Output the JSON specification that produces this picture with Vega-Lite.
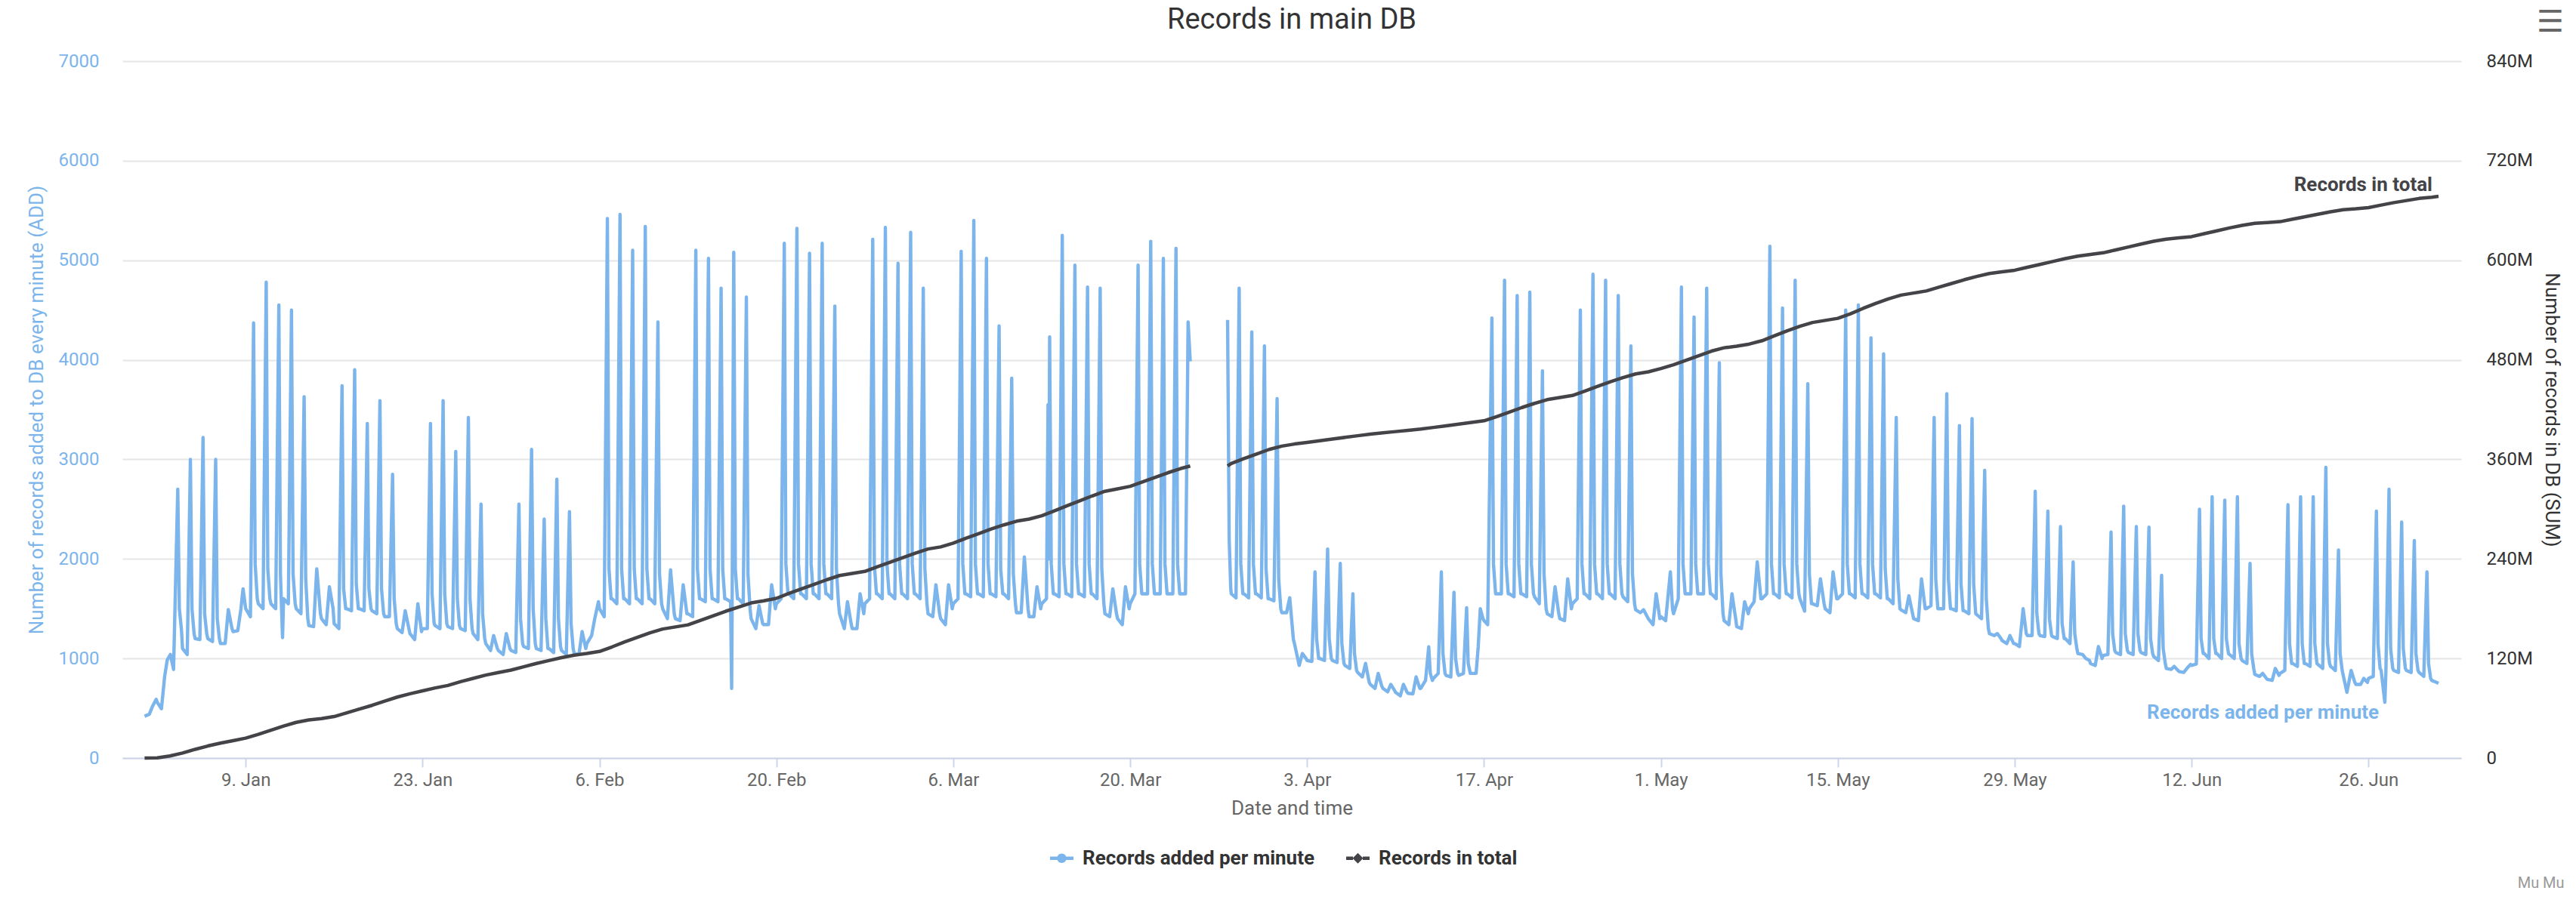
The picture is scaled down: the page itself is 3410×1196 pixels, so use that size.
{
  "$schema": "https://vega.github.io/schema/vega-lite/v6.json",
  "autosize": {"type": "none"},
  "width": 3096,
  "height": 923,
  "padding": {"left": 162, "top": 81, "right": 152, "bottom": 192},
  "title": {"text": "Records in main DB", "fontSize": 38, "fontWeight": "normal", "color": "#333333", "anchor": "middle", "baseline": "alphabetic", "offset": -66},
  "config": {"font": "Roboto", "view": {"stroke": null}},
  "datasets": {
    "add": [
      {"t":"2017-01-01T00:00","v":420},{"t":"2017-01-01T09:00","v":440},{"t":"2017-01-01T15:00","v":520},{"t":"2017-01-01T22:00","v":590},
      {"t":"2017-01-02T00:00","v":560},{"t":"2017-01-02T08:00","v":495},{"t":"2017-01-02T14:00","v":815},{"t":"2017-01-02T19:00","v":985},
      {"t":"2017-01-03T01:00","v":1040},{"t":"2017-01-03T07:00","v":890},{"t":"2017-01-03T15:00","v":2700},{"t":"2017-01-03T18:00","v":1500},{"t":"2017-01-03T22:00","v":1290},
      {"t":"2017-01-04T00:00","v":1100},{"t":"2017-01-04T09:00","v":1040},{"t":"2017-01-04T15:00","v":3000},{"t":"2017-01-04T18:00","v":1500},{"t":"2017-01-04T22:00","v":1250},
      {"t":"2017-01-05T00:00","v":1200},{"t":"2017-01-05T09:00","v":1190},{"t":"2017-01-05T15:00","v":3220},{"t":"2017-01-05T18:00","v":1450},{"t":"2017-01-05T22:00","v":1250},
      {"t":"2017-01-06T00:00","v":1200},{"t":"2017-01-06T09:00","v":1170},{"t":"2017-01-06T15:00","v":3000},{"t":"2017-01-06T18:00","v":1400},{"t":"2017-01-06T22:00","v":1200},
      {"t":"2017-01-07T00:00","v":1150},{"t":"2017-01-07T09:00","v":1150},{"t":"2017-01-07T15:00","v":1490},{"t":"2017-01-07T22:00","v":1300},
      {"t":"2017-01-08T00:00","v":1270},{"t":"2017-01-08T09:00","v":1280},{"t":"2017-01-08T15:00","v":1500},{"t":"2017-01-08T19:00","v":1700},
      {"t":"2017-01-09T00:00","v":1500},{"t":"2017-01-09T09:00","v":1420},{"t":"2017-01-09T15:00","v":4370},{"t":"2017-01-09T18:00","v":1950},{"t":"2017-01-09T22:00","v":1600},
      {"t":"2017-01-10T00:00","v":1550},{"t":"2017-01-10T09:00","v":1500},{"t":"2017-01-10T15:00","v":4780},{"t":"2017-01-10T18:00","v":1900},{"t":"2017-01-10T22:00","v":1600},
      {"t":"2017-01-11T00:00","v":1550},{"t":"2017-01-11T09:00","v":1500},{"t":"2017-01-11T15:00","v":4550},{"t":"2017-01-11T18:00","v":1850},{"t":"2017-01-11T22:00","v":1210},
      {"t":"2017-01-12T00:00","v":1600},{"t":"2017-01-12T09:00","v":1550},{"t":"2017-01-12T15:00","v":4500},{"t":"2017-01-12T18:00","v":1850},{"t":"2017-01-12T22:00","v":1550},
      {"t":"2017-01-13T00:00","v":1500},{"t":"2017-01-13T09:00","v":1450},{"t":"2017-01-13T15:00","v":3630},{"t":"2017-01-13T18:00","v":1800},{"t":"2017-01-13T22:00","v":1400},
      {"t":"2017-01-14T00:00","v":1330},{"t":"2017-01-14T09:00","v":1320},{"t":"2017-01-14T15:00","v":1900},{"t":"2017-01-14T22:00","v":1450},
      {"t":"2017-01-15T00:00","v":1400},{"t":"2017-01-15T09:00","v":1340},{"t":"2017-01-15T15:00","v":1720},{"t":"2017-01-15T22:00","v":1500},
      {"t":"2017-01-16T00:00","v":1350},{"t":"2017-01-16T09:00","v":1300},{"t":"2017-01-16T15:00","v":3740},{"t":"2017-01-16T18:00","v":1700},{"t":"2017-01-16T22:00","v":1500},
      {"t":"2017-01-17T00:00","v":1500},{"t":"2017-01-17T09:00","v":1480},{"t":"2017-01-17T15:00","v":3900},{"t":"2017-01-17T18:00","v":1750},{"t":"2017-01-17T22:00","v":1500},
      {"t":"2017-01-18T00:00","v":1500},{"t":"2017-01-18T09:00","v":1480},{"t":"2017-01-18T15:00","v":3360},{"t":"2017-01-18T18:00","v":1700},{"t":"2017-01-18T22:00","v":1500},
      {"t":"2017-01-19T00:00","v":1480},{"t":"2017-01-19T09:00","v":1450},{"t":"2017-01-19T15:00","v":3590},{"t":"2017-01-19T18:00","v":1700},{"t":"2017-01-19T22:00","v":1450},
      {"t":"2017-01-20T00:00","v":1420},{"t":"2017-01-20T09:00","v":1420},{"t":"2017-01-20T15:00","v":2850},{"t":"2017-01-20T18:00","v":1600},{"t":"2017-01-20T22:00","v":1350},
      {"t":"2017-01-21T00:00","v":1300},{"t":"2017-01-21T09:00","v":1260},{"t":"2017-01-21T15:00","v":1480},{"t":"2017-01-21T22:00","v":1300},
      {"t":"2017-01-22T00:00","v":1250},{"t":"2017-01-22T09:00","v":1190},{"t":"2017-01-22T15:00","v":1550},{"t":"2017-01-22T22:00","v":1270},
      {"t":"2017-01-23T00:00","v":1300},{"t":"2017-01-23T09:00","v":1300},{"t":"2017-01-23T15:00","v":3360},{"t":"2017-01-23T18:00","v":1650},{"t":"2017-01-23T22:00","v":1350},
      {"t":"2017-01-24T00:00","v":1330},{"t":"2017-01-24T09:00","v":1300},{"t":"2017-01-24T15:00","v":3590},{"t":"2017-01-24T18:00","v":1650},{"t":"2017-01-24T22:00","v":1350},
      {"t":"2017-01-25T00:00","v":1320},{"t":"2017-01-25T09:00","v":1300},{"t":"2017-01-25T15:00","v":3080},{"t":"2017-01-25T18:00","v":1600},{"t":"2017-01-25T22:00","v":1330},
      {"t":"2017-01-26T00:00","v":1300},{"t":"2017-01-26T09:00","v":1280},{"t":"2017-01-26T15:00","v":3420},{"t":"2017-01-26T18:00","v":1600},{"t":"2017-01-26T22:00","v":1300},
      {"t":"2017-01-27T00:00","v":1250},{"t":"2017-01-27T09:00","v":1190},{"t":"2017-01-27T15:00","v":2550},{"t":"2017-01-27T18:00","v":1450},{"t":"2017-01-27T22:00","v":1200},
      {"t":"2017-01-28T00:00","v":1150},{"t":"2017-01-28T09:00","v":1080},{"t":"2017-01-28T15:00","v":1230},{"t":"2017-01-28T22:00","v":1100},
      {"t":"2017-01-29T00:00","v":1080},{"t":"2017-01-29T09:00","v":1040},{"t":"2017-01-29T15:00","v":1250},{"t":"2017-01-29T22:00","v":1100},
      {"t":"2017-01-30T00:00","v":1080},{"t":"2017-01-30T09:00","v":1060},{"t":"2017-01-30T15:00","v":2550},{"t":"2017-01-30T18:00","v":1400},{"t":"2017-01-30T22:00","v":1150},
      {"t":"2017-01-31T00:00","v":1120},{"t":"2017-01-31T09:00","v":1100},{"t":"2017-01-31T15:00","v":3100},{"t":"2017-01-31T18:00","v":1500},{"t":"2017-01-31T22:00","v":1150},
      {"t":"2017-02-01T00:00","v":1100},{"t":"2017-02-01T09:00","v":1080},{"t":"2017-02-01T15:00","v":2400},{"t":"2017-02-01T18:00","v":1400},{"t":"2017-02-01T22:00","v":1100},
      {"t":"2017-02-02T00:00","v":1100},{"t":"2017-02-02T09:00","v":1060},{"t":"2017-02-02T15:00","v":2800},{"t":"2017-02-02T18:00","v":1400},{"t":"2017-02-02T22:00","v":1120},
      {"t":"2017-02-03T00:00","v":1080},{"t":"2017-02-03T09:00","v":1040},{"t":"2017-02-03T15:00","v":2475},{"t":"2017-02-03T18:00","v":1350},{"t":"2017-02-03T22:00","v":1100},
      {"t":"2017-02-04T00:00","v":1050},{"t":"2017-02-04T09:00","v":1040},{"t":"2017-02-04T15:00","v":1270},{"t":"2017-02-04T22:00","v":1100},
      {"t":"2017-02-05T00:00","v":1150},{"t":"2017-02-05T09:00","v":1230},{"t":"2017-02-05T15:00","v":1400},{"t":"2017-02-05T22:00","v":1570},
      {"t":"2017-02-06T00:00","v":1500},{"t":"2017-02-06T09:00","v":1420},{"t":"2017-02-06T15:00","v":5420},{"t":"2017-02-06T18:00","v":1900},{"t":"2017-02-06T22:00","v":1600},
      {"t":"2017-02-07T00:00","v":1600},{"t":"2017-02-07T09:00","v":1550},{"t":"2017-02-07T15:00","v":5460},{"t":"2017-02-07T18:00","v":1900},{"t":"2017-02-07T22:00","v":1600},
      {"t":"2017-02-08T00:00","v":1600},{"t":"2017-02-08T09:00","v":1550},{"t":"2017-02-08T15:00","v":5100},{"t":"2017-02-08T18:00","v":1900},{"t":"2017-02-08T22:00","v":1600},
      {"t":"2017-02-09T00:00","v":1600},{"t":"2017-02-09T09:00","v":1550},{"t":"2017-02-09T15:00","v":5340},{"t":"2017-02-09T18:00","v":1900},{"t":"2017-02-09T22:00","v":1600},
      {"t":"2017-02-10T00:00","v":1600},{"t":"2017-02-10T09:00","v":1550},{"t":"2017-02-10T15:00","v":4380},{"t":"2017-02-10T18:00","v":1850},{"t":"2017-02-10T22:00","v":1550},
      {"t":"2017-02-11T00:00","v":1500},{"t":"2017-02-11T09:00","v":1400},{"t":"2017-02-11T15:00","v":1890},{"t":"2017-02-11T22:00","v":1450},
      {"t":"2017-02-12T00:00","v":1400},{"t":"2017-02-12T09:00","v":1380},{"t":"2017-02-12T15:00","v":1740},{"t":"2017-02-12T22:00","v":1450},
      {"t":"2017-02-13T00:00","v":1450},{"t":"2017-02-13T09:00","v":1420},{"t":"2017-02-13T15:00","v":5100},{"t":"2017-02-13T18:00","v":1900},{"t":"2017-02-13T22:00","v":1600},
      {"t":"2017-02-14T00:00","v":1600},{"t":"2017-02-14T09:00","v":1570},{"t":"2017-02-14T15:00","v":5020},{"t":"2017-02-14T18:00","v":1900},{"t":"2017-02-14T22:00","v":1600},
      {"t":"2017-02-15T00:00","v":1600},{"t":"2017-02-15T09:00","v":1570},{"t":"2017-02-15T15:00","v":4720},{"t":"2017-02-15T18:00","v":1900},{"t":"2017-02-15T22:00","v":1600},
      {"t":"2017-02-16T00:00","v":1600},{"t":"2017-02-16T09:00","v":1570},{"t":"2017-02-16T11:00","v":700},{"t":"2017-02-16T12:00","v":1600},{"t":"2017-02-16T15:00","v":5080},{"t":"2017-02-16T18:00","v":1900},{"t":"2017-02-16T22:00","v":1600},
      {"t":"2017-02-17T00:00","v":1600},{"t":"2017-02-17T09:00","v":1550},{"t":"2017-02-17T15:00","v":4630},{"t":"2017-02-17T18:00","v":1850},{"t":"2017-02-17T22:00","v":1500},
      {"t":"2017-02-18T00:00","v":1400},{"t":"2017-02-18T09:00","v":1300},{"t":"2017-02-18T15:00","v":1530},{"t":"2017-02-18T22:00","v":1350},
      {"t":"2017-02-19T00:00","v":1340},{"t":"2017-02-19T09:00","v":1340},{"t":"2017-02-19T15:00","v":1740},{"t":"2017-02-19T22:00","v":1500},
      {"t":"2017-02-20T00:00","v":1550},{"t":"2017-02-20T09:00","v":1600},{"t":"2017-02-20T15:00","v":5170},{"t":"2017-02-20T18:00","v":1950},{"t":"2017-02-20T22:00","v":1650},
      {"t":"2017-02-21T00:00","v":1650},{"t":"2017-02-21T09:00","v":1600},{"t":"2017-02-21T15:00","v":5320},{"t":"2017-02-21T18:00","v":1950},{"t":"2017-02-21T22:00","v":1650},
      {"t":"2017-02-22T00:00","v":1650},{"t":"2017-02-22T09:00","v":1600},{"t":"2017-02-22T15:00","v":5070},{"t":"2017-02-22T18:00","v":1950},{"t":"2017-02-22T22:00","v":1650},
      {"t":"2017-02-23T00:00","v":1650},{"t":"2017-02-23T09:00","v":1600},{"t":"2017-02-23T15:00","v":5170},{"t":"2017-02-23T18:00","v":1950},{"t":"2017-02-23T22:00","v":1650},
      {"t":"2017-02-24T00:00","v":1650},{"t":"2017-02-24T09:00","v":1600},{"t":"2017-02-24T15:00","v":4540},{"t":"2017-02-24T18:00","v":1900},{"t":"2017-02-24T22:00","v":1550},
      {"t":"2017-02-25T00:00","v":1450},{"t":"2017-02-25T09:00","v":1300},{"t":"2017-02-25T15:00","v":1570},{"t":"2017-02-25T22:00","v":1350},
      {"t":"2017-02-26T00:00","v":1300},{"t":"2017-02-26T09:00","v":1300},{"t":"2017-02-26T15:00","v":1650},{"t":"2017-02-26T22:00","v":1450},
      {"t":"2017-02-27T00:00","v":1550},{"t":"2017-02-27T09:00","v":1600},{"t":"2017-02-27T15:00","v":5210},{"t":"2017-02-27T18:00","v":1950},{"t":"2017-02-27T22:00","v":1650},
      {"t":"2017-02-28T00:00","v":1650},{"t":"2017-02-28T09:00","v":1600},{"t":"2017-02-28T15:00","v":5330},{"t":"2017-02-28T18:00","v":1950},{"t":"2017-02-28T22:00","v":1650},
      {"t":"2017-03-01T00:00","v":1650},{"t":"2017-03-01T09:00","v":1600},{"t":"2017-03-01T15:00","v":4970},{"t":"2017-03-01T18:00","v":1950},{"t":"2017-03-01T22:00","v":1650},
      {"t":"2017-03-02T00:00","v":1650},{"t":"2017-03-02T09:00","v":1600},{"t":"2017-03-02T15:00","v":5280},{"t":"2017-03-02T18:00","v":1950},{"t":"2017-03-02T22:00","v":1650},
      {"t":"2017-03-03T00:00","v":1650},{"t":"2017-03-03T09:00","v":1600},{"t":"2017-03-03T15:00","v":4720},{"t":"2017-03-03T18:00","v":1900},{"t":"2017-03-03T22:00","v":1550},
      {"t":"2017-03-04T00:00","v":1450},{"t":"2017-03-04T09:00","v":1420},{"t":"2017-03-04T15:00","v":1740},{"t":"2017-03-04T22:00","v":1450},
      {"t":"2017-03-05T00:00","v":1400},{"t":"2017-03-05T09:00","v":1340},{"t":"2017-03-05T15:00","v":1740},{"t":"2017-03-05T22:00","v":1500},
      {"t":"2017-03-06T00:00","v":1550},{"t":"2017-03-06T09:00","v":1600},{"t":"2017-03-06T15:00","v":5090},{"t":"2017-03-06T18:00","v":1950},{"t":"2017-03-06T22:00","v":1650},
      {"t":"2017-03-07T00:00","v":1650},{"t":"2017-03-07T09:00","v":1620},{"t":"2017-03-07T15:00","v":5400},{"t":"2017-03-07T18:00","v":1950},{"t":"2017-03-07T22:00","v":1650},
      {"t":"2017-03-08T00:00","v":1650},{"t":"2017-03-08T09:00","v":1620},{"t":"2017-03-08T15:00","v":5020},{"t":"2017-03-08T18:00","v":1950},{"t":"2017-03-08T22:00","v":1650},
      {"t":"2017-03-09T00:00","v":1650},{"t":"2017-03-09T09:00","v":1620},{"t":"2017-03-09T15:00","v":4340},{"t":"2017-03-09T18:00","v":1900},{"t":"2017-03-09T22:00","v":1650},
      {"t":"2017-03-10T00:00","v":1650},{"t":"2017-03-10T09:00","v":1600},{"t":"2017-03-10T15:00","v":3815},{"t":"2017-03-10T18:00","v":1850},{"t":"2017-03-10T22:00","v":1550},
      {"t":"2017-03-11T00:00","v":1460},{"t":"2017-03-11T09:00","v":1460},{"t":"2017-03-11T15:00","v":2020},{"t":"2017-03-11T22:00","v":1500},
      {"t":"2017-03-12T00:00","v":1420},{"t":"2017-03-12T09:00","v":1420},{"t":"2017-03-12T15:00","v":1720},{"t":"2017-03-12T22:00","v":1500},
      {"t":"2017-03-13T00:00","v":1550},{"t":"2017-03-13T09:00","v":1600},{"t":"2017-03-13T12:00","v":3550},{"t":"2017-03-13T13:00","v":2000},{"t":"2017-03-13T15:00","v":4230},{"t":"2017-03-13T18:00","v":1950},{"t":"2017-03-13T22:00","v":1650},
      {"t":"2017-03-14T00:00","v":1650},{"t":"2017-03-14T09:00","v":1620},{"t":"2017-03-14T15:00","v":5250},{"t":"2017-03-14T18:00","v":1950},{"t":"2017-03-14T22:00","v":1650},
      {"t":"2017-03-15T00:00","v":1650},{"t":"2017-03-15T09:00","v":1620},{"t":"2017-03-15T15:00","v":4950},{"t":"2017-03-15T18:00","v":1950},{"t":"2017-03-15T22:00","v":1650},
      {"t":"2017-03-16T00:00","v":1650},{"t":"2017-03-16T09:00","v":1620},{"t":"2017-03-16T15:00","v":4730},{"t":"2017-03-16T18:00","v":1950},{"t":"2017-03-16T22:00","v":1650},
      {"t":"2017-03-17T00:00","v":1650},{"t":"2017-03-17T09:00","v":1600},{"t":"2017-03-17T15:00","v":4720},{"t":"2017-03-17T18:00","v":1900},{"t":"2017-03-17T22:00","v":1550},
      {"t":"2017-03-18T00:00","v":1450},{"t":"2017-03-18T09:00","v":1420},{"t":"2017-03-18T15:00","v":1700},{"t":"2017-03-18T22:00","v":1450},
      {"t":"2017-03-19T00:00","v":1400},{"t":"2017-03-19T09:00","v":1340},{"t":"2017-03-19T15:00","v":1720},{"t":"2017-03-19T22:00","v":1500},
      {"t":"2017-03-20T00:00","v":1550},{"t":"2017-03-20T09:00","v":1650},{"t":"2017-03-20T15:00","v":4950},{"t":"2017-03-20T18:00","v":1950},{"t":"2017-03-20T22:00","v":1650},
      {"t":"2017-03-21T00:00","v":1650},{"t":"2017-03-21T09:00","v":1650},{"t":"2017-03-21T15:00","v":5190},{"t":"2017-03-21T18:00","v":1950},{"t":"2017-03-21T22:00","v":1650},
      {"t":"2017-03-22T00:00","v":1650},{"t":"2017-03-22T09:00","v":1650},{"t":"2017-03-22T15:00","v":5020},{"t":"2017-03-22T18:00","v":1950},{"t":"2017-03-22T22:00","v":1650},
      {"t":"2017-03-23T00:00","v":1650},{"t":"2017-03-23T09:00","v":1650},{"t":"2017-03-23T15:00","v":5120},{"t":"2017-03-23T18:00","v":1950},{"t":"2017-03-23T22:00","v":1650},
      {"t":"2017-03-24T00:00","v":1650},{"t":"2017-03-24T09:00","v":1650},{"t":"2017-03-24T14:00","v":4380},{"t":"2017-03-24T18:00","v":3985},
      {"t":"2017-03-26T00:00","v":null},
      {"t":"2017-03-27T17:00","v":4400},{"t":"2017-03-27T20:00","v":2200},{"t":"2017-03-27T23:00","v":1700},
      {"t":"2017-03-28T00:00","v":1650},{"t":"2017-03-28T09:00","v":1610},{"t":"2017-03-28T15:00","v":4720},{"t":"2017-03-28T18:00","v":1950},{"t":"2017-03-28T22:00","v":1650},
      {"t":"2017-03-29T00:00","v":1650},{"t":"2017-03-29T09:00","v":1610},{"t":"2017-03-29T15:00","v":4280},{"t":"2017-03-29T18:00","v":1950},{"t":"2017-03-29T22:00","v":1650},
      {"t":"2017-03-30T00:00","v":1650},{"t":"2017-03-30T09:00","v":1610},{"t":"2017-03-30T15:00","v":4140},{"t":"2017-03-30T18:00","v":1900},{"t":"2017-03-30T22:00","v":1600},
      {"t":"2017-03-31T00:00","v":1600},{"t":"2017-03-31T09:00","v":1580},{"t":"2017-03-31T15:00","v":3610},{"t":"2017-03-31T18:00","v":1800},{"t":"2017-03-31T22:00","v":1500},
      {"t":"2017-04-01T00:00","v":1460},{"t":"2017-04-01T09:00","v":1460},{"t":"2017-04-01T15:00","v":1610},{"t":"2017-04-01T22:00","v":1190},
      {"t":"2017-04-02T00:00","v":1150},{"t":"2017-04-02T09:00","v":930},{"t":"2017-04-02T15:00","v":1050},{"t":"2017-04-02T22:00","v":1000},
      {"t":"2017-04-03T00:00","v":980},{"t":"2017-04-03T09:00","v":970},{"t":"2017-04-03T15:00","v":1870},{"t":"2017-04-03T18:00","v":1200},{"t":"2017-04-03T22:00","v":1000},
      {"t":"2017-04-04T00:00","v":1000},{"t":"2017-04-04T09:00","v":980},{"t":"2017-04-04T15:00","v":2100},{"t":"2017-04-04T18:00","v":1200},{"t":"2017-04-04T22:00","v":1000},
      {"t":"2017-04-05T00:00","v":980},{"t":"2017-04-05T09:00","v":960},{"t":"2017-04-05T15:00","v":1955},{"t":"2017-04-05T18:00","v":1150},{"t":"2017-04-05T22:00","v":950},
      {"t":"2017-04-06T00:00","v":930},{"t":"2017-04-06T09:00","v":900},{"t":"2017-04-06T15:00","v":1650},{"t":"2017-04-06T18:00","v":1050},{"t":"2017-04-06T22:00","v":880},
      {"t":"2017-04-07T00:00","v":860},{"t":"2017-04-07T09:00","v":815},{"t":"2017-04-07T15:00","v":950},{"t":"2017-04-07T22:00","v":760},
      {"t":"2017-04-08T00:00","v":740},{"t":"2017-04-08T09:00","v":700},{"t":"2017-04-08T15:00","v":850},{"t":"2017-04-08T22:00","v":720},
      {"t":"2017-04-09T00:00","v":700},{"t":"2017-04-09T09:00","v":665},{"t":"2017-04-09T15:00","v":740},{"t":"2017-04-09T22:00","v":680},
      {"t":"2017-04-10T00:00","v":660},{"t":"2017-04-10T09:00","v":625},{"t":"2017-04-10T15:00","v":740},{"t":"2017-04-10T22:00","v":660},
      {"t":"2017-04-11T00:00","v":650},{"t":"2017-04-11T09:00","v":645},{"t":"2017-04-11T15:00","v":815},{"t":"2017-04-11T22:00","v":700},
      {"t":"2017-04-12T00:00","v":700},{"t":"2017-04-12T09:00","v":780},{"t":"2017-04-12T15:00","v":1117},{"t":"2017-04-12T18:00","v":850},{"t":"2017-04-12T22:00","v":780},
      {"t":"2017-04-13T00:00","v":800},{"t":"2017-04-13T09:00","v":850},{"t":"2017-04-13T15:00","v":1870},{"t":"2017-04-13T18:00","v":1050},{"t":"2017-04-13T22:00","v":850},
      {"t":"2017-04-14T00:00","v":830},{"t":"2017-04-14T09:00","v":815},{"t":"2017-04-14T15:00","v":1665},{"t":"2017-04-14T18:00","v":1000},{"t":"2017-04-14T22:00","v":850},
      {"t":"2017-04-15T00:00","v":830},{"t":"2017-04-15T09:00","v":850},{"t":"2017-04-15T15:00","v":1510},{"t":"2017-04-15T18:00","v":950},{"t":"2017-04-15T22:00","v":850},
      {"t":"2017-04-16T00:00","v":850},{"t":"2017-04-16T09:00","v":850},{"t":"2017-04-16T13:00","v":1117},{"t":"2017-04-16T17:00","v":1500},{"t":"2017-04-16T22:00","v":1400},
      {"t":"2017-04-17T00:00","v":1380},{"t":"2017-04-17T07:00","v":1340},{"t":"2017-04-17T15:00","v":4420},{"t":"2017-04-17T18:00","v":1950},{"t":"2017-04-17T22:00","v":1650},
      {"t":"2017-04-18T00:00","v":1650},{"t":"2017-04-18T09:00","v":1650},{"t":"2017-04-18T15:00","v":4800},{"t":"2017-04-18T18:00","v":1950},{"t":"2017-04-18T22:00","v":1650},
      {"t":"2017-04-19T00:00","v":1650},{"t":"2017-04-19T09:00","v":1620},{"t":"2017-04-19T15:00","v":4645},{"t":"2017-04-19T18:00","v":1950},{"t":"2017-04-19T22:00","v":1650},
      {"t":"2017-04-20T00:00","v":1650},{"t":"2017-04-20T09:00","v":1620},{"t":"2017-04-20T15:00","v":4680},{"t":"2017-04-20T18:00","v":1950},{"t":"2017-04-20T22:00","v":1650},
      {"t":"2017-04-21T00:00","v":1620},{"t":"2017-04-21T09:00","v":1550},{"t":"2017-04-21T15:00","v":3890},{"t":"2017-04-21T18:00","v":1850},{"t":"2017-04-21T22:00","v":1500},
      {"t":"2017-04-22T00:00","v":1450},{"t":"2017-04-22T09:00","v":1420},{"t":"2017-04-22T15:00","v":1720},{"t":"2017-04-22T22:00","v":1450},
      {"t":"2017-04-23T00:00","v":1400},{"t":"2017-04-23T09:00","v":1380},{"t":"2017-04-23T15:00","v":1800},{"t":"2017-04-23T22:00","v":1500},
      {"t":"2017-04-24T00:00","v":1550},{"t":"2017-04-24T09:00","v":1600},{"t":"2017-04-24T15:00","v":4500},{"t":"2017-04-24T18:00","v":1950},{"t":"2017-04-24T22:00","v":1650},
      {"t":"2017-04-25T00:00","v":1650},{"t":"2017-04-25T09:00","v":1600},{"t":"2017-04-25T15:00","v":4860},{"t":"2017-04-25T18:00","v":1950},{"t":"2017-04-25T22:00","v":1650},
      {"t":"2017-04-26T00:00","v":1650},{"t":"2017-04-26T09:00","v":1600},{"t":"2017-04-26T15:00","v":4800},{"t":"2017-04-26T18:00","v":1950},{"t":"2017-04-26T22:00","v":1650},
      {"t":"2017-04-27T00:00","v":1650},{"t":"2017-04-27T09:00","v":1600},{"t":"2017-04-27T15:00","v":4645},{"t":"2017-04-27T18:00","v":1950},{"t":"2017-04-27T22:00","v":1650},
      {"t":"2017-04-28T00:00","v":1620},{"t":"2017-04-28T09:00","v":1570},{"t":"2017-04-28T15:00","v":4140},{"t":"2017-04-28T18:00","v":1850},{"t":"2017-04-28T22:00","v":1550},
      {"t":"2017-04-29T00:00","v":1490},{"t":"2017-04-29T09:00","v":1460},{"t":"2017-04-29T15:00","v":1490},{"t":"2017-04-29T22:00","v":1420},
      {"t":"2017-04-30T00:00","v":1400},{"t":"2017-04-30T09:00","v":1340},{"t":"2017-04-30T15:00","v":1650},{"t":"2017-04-30T22:00","v":1400},
      {"t":"2017-05-01T00:00","v":1420},{"t":"2017-05-01T09:00","v":1380},{"t":"2017-05-01T18:00","v":1870},{"t":"2017-05-01T22:00","v":1500},
      {"t":"2017-05-02T00:00","v":1450},{"t":"2017-05-02T09:00","v":1600},{"t":"2017-05-02T15:00","v":4730},{"t":"2017-05-02T18:00","v":1950},{"t":"2017-05-02T22:00","v":1650},
      {"t":"2017-05-03T00:00","v":1650},{"t":"2017-05-03T09:00","v":1650},{"t":"2017-05-03T15:00","v":4430},{"t":"2017-05-03T18:00","v":1950},{"t":"2017-05-03T22:00","v":1650},
      {"t":"2017-05-04T00:00","v":1650},{"t":"2017-05-04T09:00","v":1650},{"t":"2017-05-04T15:00","v":4720},{"t":"2017-05-04T18:00","v":1950},{"t":"2017-05-04T22:00","v":1650},
      {"t":"2017-05-05T00:00","v":1650},{"t":"2017-05-05T09:00","v":1600},{"t":"2017-05-05T15:00","v":3970},{"t":"2017-05-05T18:00","v":1850},{"t":"2017-05-05T22:00","v":1450},
      {"t":"2017-05-06T00:00","v":1380},{"t":"2017-05-06T09:00","v":1340},{"t":"2017-05-06T15:00","v":1650},{"t":"2017-05-06T22:00","v":1400},
      {"t":"2017-05-07T00:00","v":1320},{"t":"2017-05-07T09:00","v":1300},{"t":"2017-05-07T15:00","v":1570},{"t":"2017-05-07T22:00","v":1450},
      {"t":"2017-05-08T00:00","v":1500},{"t":"2017-05-08T09:00","v":1570},{"t":"2017-05-08T15:00","v":1970},{"t":"2017-05-08T22:00","v":1600},
      {"t":"2017-05-09T00:00","v":1600},{"t":"2017-05-09T09:00","v":1650},{"t":"2017-05-09T15:00","v":5140},{"t":"2017-05-09T18:00","v":1950},{"t":"2017-05-09T22:00","v":1650},
      {"t":"2017-05-10T00:00","v":1650},{"t":"2017-05-10T09:00","v":1610},{"t":"2017-05-10T15:00","v":4520},{"t":"2017-05-10T18:00","v":1950},{"t":"2017-05-10T22:00","v":1650},
      {"t":"2017-05-11T00:00","v":1650},{"t":"2017-05-11T09:00","v":1610},{"t":"2017-05-11T15:00","v":4800},{"t":"2017-05-11T18:00","v":1950},{"t":"2017-05-11T22:00","v":1650},
      {"t":"2017-05-12T00:00","v":1600},{"t":"2017-05-12T09:00","v":1475},{"t":"2017-05-12T15:00","v":3760},{"t":"2017-05-12T18:00","v":1850},{"t":"2017-05-12T22:00","v":1550},
      {"t":"2017-05-13T00:00","v":1550},{"t":"2017-05-13T09:00","v":1530},{"t":"2017-05-13T15:00","v":1800},{"t":"2017-05-13T22:00","v":1550},
      {"t":"2017-05-14T00:00","v":1500},{"t":"2017-05-14T09:00","v":1460},{"t":"2017-05-14T15:00","v":1870},{"t":"2017-05-14T22:00","v":1600},
      {"t":"2017-05-15T00:00","v":1600},{"t":"2017-05-15T09:00","v":1650},{"t":"2017-05-15T15:00","v":4500},{"t":"2017-05-15T18:00","v":1950},{"t":"2017-05-15T22:00","v":1650},
      {"t":"2017-05-16T00:00","v":1650},{"t":"2017-05-16T09:00","v":1610},{"t":"2017-05-16T15:00","v":4550},{"t":"2017-05-16T18:00","v":1950},{"t":"2017-05-16T22:00","v":1650},
      {"t":"2017-05-17T00:00","v":1650},{"t":"2017-05-17T09:00","v":1610},{"t":"2017-05-17T15:00","v":4220},{"t":"2017-05-17T18:00","v":1950},{"t":"2017-05-17T22:00","v":1650},
      {"t":"2017-05-18T00:00","v":1650},{"t":"2017-05-18T09:00","v":1610},{"t":"2017-05-18T15:00","v":4060},{"t":"2017-05-18T18:00","v":1900},{"t":"2017-05-18T22:00","v":1600},
      {"t":"2017-05-19T00:00","v":1600},{"t":"2017-05-19T09:00","v":1550},{"t":"2017-05-19T15:00","v":3420},{"t":"2017-05-19T18:00","v":1800},{"t":"2017-05-19T22:00","v":1500},
      {"t":"2017-05-20T00:00","v":1490},{"t":"2017-05-20T09:00","v":1460},{"t":"2017-05-20T15:00","v":1630},{"t":"2017-05-20T22:00","v":1450},
      {"t":"2017-05-21T00:00","v":1400},{"t":"2017-05-21T09:00","v":1380},{"t":"2017-05-21T15:00","v":1800},{"t":"2017-05-21T22:00","v":1500},
      {"t":"2017-05-22T00:00","v":1500},{"t":"2017-05-22T09:00","v":1530},{"t":"2017-05-22T15:00","v":3420},{"t":"2017-05-22T18:00","v":1800},{"t":"2017-05-22T22:00","v":1500},
      {"t":"2017-05-23T00:00","v":1500},{"t":"2017-05-23T09:00","v":1500},{"t":"2017-05-23T15:00","v":3660},{"t":"2017-05-23T18:00","v":1800},{"t":"2017-05-23T22:00","v":1500},
      {"t":"2017-05-24T00:00","v":1500},{"t":"2017-05-24T09:00","v":1480},{"t":"2017-05-24T15:00","v":3340},{"t":"2017-05-24T18:00","v":1750},{"t":"2017-05-24T22:00","v":1480},
      {"t":"2017-05-25T00:00","v":1480},{"t":"2017-05-25T09:00","v":1450},{"t":"2017-05-25T15:00","v":3410},{"t":"2017-05-25T18:00","v":1750},{"t":"2017-05-25T22:00","v":1450},
      {"t":"2017-05-26T00:00","v":1440},{"t":"2017-05-26T09:00","v":1400},{"t":"2017-05-26T15:00","v":2890},{"t":"2017-05-26T18:00","v":1600},{"t":"2017-05-26T22:00","v":1300},
      {"t":"2017-05-27T00:00","v":1250},{"t":"2017-05-27T09:00","v":1230},{"t":"2017-05-27T15:00","v":1250},{"t":"2017-05-27T22:00","v":1200},
      {"t":"2017-05-28T00:00","v":1180},{"t":"2017-05-28T09:00","v":1150},{"t":"2017-05-28T15:00","v":1230},{"t":"2017-05-28T22:00","v":1150},
      {"t":"2017-05-29T00:00","v":1150},{"t":"2017-05-29T09:00","v":1120},{"t":"2017-05-29T16:00","v":1500},{"t":"2017-05-29T22:00","v":1250},
      {"t":"2017-05-30T00:00","v":1230},{"t":"2017-05-30T09:00","v":1230},{"t":"2017-05-30T15:00","v":2680},{"t":"2017-05-30T18:00","v":1450},{"t":"2017-05-30T22:00","v":1250},
      {"t":"2017-05-31T00:00","v":1230},{"t":"2017-05-31T09:00","v":1220},{"t":"2017-05-31T15:00","v":2480},{"t":"2017-05-31T18:00","v":1400},{"t":"2017-05-31T22:00","v":1230},
      {"t":"2017-06-01T00:00","v":1220},{"t":"2017-06-01T09:00","v":1200},{"t":"2017-06-01T15:00","v":2325},{"t":"2017-06-01T18:00","v":1350},{"t":"2017-06-01T22:00","v":1200},
      {"t":"2017-06-02T00:00","v":1200},{"t":"2017-06-02T09:00","v":1150},{"t":"2017-06-02T15:00","v":1970},{"t":"2017-06-02T18:00","v":1250},{"t":"2017-06-02T22:00","v":1100},
      {"t":"2017-06-03T00:00","v":1050},{"t":"2017-06-03T09:00","v":1040},{"t":"2017-06-03T15:00","v":1000},{"t":"2017-06-03T22:00","v":980},
      {"t":"2017-06-04T00:00","v":950},{"t":"2017-06-04T09:00","v":930},{"t":"2017-06-04T15:00","v":1120},{"t":"2017-06-04T22:00","v":1000},
      {"t":"2017-06-05T00:00","v":1030},{"t":"2017-06-05T09:00","v":1040},{"t":"2017-06-05T15:00","v":2270},{"t":"2017-06-05T18:00","v":1250},{"t":"2017-06-05T22:00","v":1080},
      {"t":"2017-06-06T00:00","v":1060},{"t":"2017-06-06T09:00","v":1040},{"t":"2017-06-06T15:00","v":2530},{"t":"2017-06-06T18:00","v":1250},{"t":"2017-06-06T22:00","v":1080},
      {"t":"2017-06-07T00:00","v":1060},{"t":"2017-06-07T09:00","v":1040},{"t":"2017-06-07T15:00","v":2325},{"t":"2017-06-07T18:00","v":1250},{"t":"2017-06-07T22:00","v":1080},
      {"t":"2017-06-08T00:00","v":1060},{"t":"2017-06-08T09:00","v":1040},{"t":"2017-06-08T15:00","v":2320},{"t":"2017-06-08T18:00","v":1200},{"t":"2017-06-08T22:00","v":1050},
      {"t":"2017-06-09T00:00","v":1020},{"t":"2017-06-09T09:00","v":980},{"t":"2017-06-09T15:00","v":1835},{"t":"2017-06-09T18:00","v":1100},{"t":"2017-06-09T22:00","v":950},
      {"t":"2017-06-10T00:00","v":900},{"t":"2017-06-10T09:00","v":890},{"t":"2017-06-10T15:00","v":920},{"t":"2017-06-10T22:00","v":880},
      {"t":"2017-06-11T00:00","v":870},{"t":"2017-06-11T09:00","v":860},{"t":"2017-06-11T15:00","v":900},{"t":"2017-06-11T22:00","v":940},
      {"t":"2017-06-12T00:00","v":930},{"t":"2017-06-12T09:00","v":945},{"t":"2017-06-12T15:00","v":2500},{"t":"2017-06-12T18:00","v":1200},{"t":"2017-06-12T22:00","v":1050},
      {"t":"2017-06-13T00:00","v":1050},{"t":"2017-06-13T09:00","v":1000},{"t":"2017-06-13T15:00","v":2625},{"t":"2017-06-13T18:00","v":1200},{"t":"2017-06-13T22:00","v":1050},
      {"t":"2017-06-14T00:00","v":1050},{"t":"2017-06-14T09:00","v":1000},{"t":"2017-06-14T15:00","v":2590},{"t":"2017-06-14T18:00","v":1200},{"t":"2017-06-14T22:00","v":1050},
      {"t":"2017-06-15T00:00","v":1040},{"t":"2017-06-15T09:00","v":1000},{"t":"2017-06-15T15:00","v":2625},{"t":"2017-06-15T18:00","v":1150},{"t":"2017-06-15T22:00","v":1000},
      {"t":"2017-06-16T00:00","v":980},{"t":"2017-06-16T09:00","v":950},{"t":"2017-06-16T15:00","v":1955},{"t":"2017-06-16T18:00","v":1050},{"t":"2017-06-16T22:00","v":900},
      {"t":"2017-06-17T00:00","v":840},{"t":"2017-06-17T09:00","v":820},{"t":"2017-06-17T15:00","v":850},{"t":"2017-06-17T22:00","v":800},
      {"t":"2017-06-18T00:00","v":790},{"t":"2017-06-18T09:00","v":780},{"t":"2017-06-18T15:00","v":900},{"t":"2017-06-18T22:00","v":830},
      {"t":"2017-06-19T00:00","v":850},{"t":"2017-06-19T09:00","v":880},{"t":"2017-06-19T15:00","v":2545},{"t":"2017-06-19T18:00","v":1150},{"t":"2017-06-19T22:00","v":950},
      {"t":"2017-06-20T00:00","v":950},{"t":"2017-06-20T09:00","v":920},{"t":"2017-06-20T15:00","v":2625},{"t":"2017-06-20T18:00","v":1150},{"t":"2017-06-20T22:00","v":950},
      {"t":"2017-06-21T00:00","v":950},{"t":"2017-06-21T09:00","v":920},{"t":"2017-06-21T15:00","v":2625},{"t":"2017-06-21T18:00","v":1150},{"t":"2017-06-21T22:00","v":950},
      {"t":"2017-06-22T00:00","v":940},{"t":"2017-06-22T09:00","v":900},{"t":"2017-06-22T15:00","v":2920},{"t":"2017-06-22T18:00","v":1150},{"t":"2017-06-22T22:00","v":950},
      {"t":"2017-06-23T00:00","v":920},{"t":"2017-06-23T09:00","v":880},{"t":"2017-06-23T15:00","v":2090},{"t":"2017-06-23T18:00","v":1050},{"t":"2017-06-23T22:00","v":880},
      {"t":"2017-06-24T00:00","v":830},{"t":"2017-06-24T07:00","v":660},{"t":"2017-06-24T15:00","v":880},{"t":"2017-06-24T22:00","v":760},
      {"t":"2017-06-25T00:00","v":740},{"t":"2017-06-25T09:00","v":740},{"t":"2017-06-25T15:00","v":800},{"t":"2017-06-25T22:00","v":760},
      {"t":"2017-06-26T00:00","v":800},{"t":"2017-06-26T09:00","v":820},{"t":"2017-06-26T15:00","v":2480},{"t":"2017-06-26T18:00","v":1150},{"t":"2017-06-26T22:00","v":900},
      {"t":"2017-06-27T00:00","v":880},{"t":"2017-06-27T07:00","v":560},{"t":"2017-06-27T09:00","v":860},{"t":"2017-06-27T15:00","v":2700},{"t":"2017-06-27T18:00","v":1100},{"t":"2017-06-27T22:00","v":900},
      {"t":"2017-06-28T00:00","v":880},{"t":"2017-06-28T09:00","v":860},{"t":"2017-06-28T15:00","v":2370},{"t":"2017-06-28T18:00","v":1100},{"t":"2017-06-28T22:00","v":900},
      {"t":"2017-06-29T00:00","v":880},{"t":"2017-06-29T09:00","v":860},{"t":"2017-06-29T15:00","v":2185},{"t":"2017-06-29T18:00","v":1050},{"t":"2017-06-29T22:00","v":880},
      {"t":"2017-06-30T00:00","v":860},{"t":"2017-06-30T09:00","v":820},{"t":"2017-06-30T15:00","v":1870},{"t":"2017-06-30T18:00","v":950},{"t":"2017-06-30T22:00","v":800},
      {"t":"2017-07-01T00:00","v":780},{"t":"2017-07-01T09:00","v":760},{"t":"2017-07-01T13:00","v":750}
    ],
    "total": [
      {"t":"2017-01-01T00:00","v":0},{"t":"2017-01-02T00:00","v":300000},{"t":"2017-01-03T00:00","v":2500000},{"t":"2017-01-04T00:00","v":6000000},
      {"t":"2017-01-05T00:00","v":10500000},{"t":"2017-01-06T00:00","v":14500000},{"t":"2017-01-07T00:00","v":18000000},{"t":"2017-01-08T00:00","v":21000000},
      {"t":"2017-01-09T00:00","v":24000000},{"t":"2017-01-10T00:00","v":28500000},{"t":"2017-01-11T00:00","v":33500000},{"t":"2017-01-12T00:00","v":38500000},
      {"t":"2017-01-13T00:00","v":43000000},{"t":"2017-01-14T00:00","v":46000000},{"t":"2017-01-15T00:00","v":47500000},{"t":"2017-01-16T00:00","v":50000000},
      {"t":"2017-01-17T00:00","v":54500000},{"t":"2017-01-18T00:00","v":59000000},{"t":"2017-01-19T00:00","v":63500000},{"t":"2017-01-20T00:00","v":68500000},
      {"t":"2017-01-21T00:00","v":73500000},{"t":"2017-01-22T00:00","v":77500000},{"t":"2017-01-23T00:00","v":81000000},{"t":"2017-01-24T00:00","v":84500000},
      {"t":"2017-01-25T00:00","v":87500000},{"t":"2017-01-26T00:00","v":92000000},{"t":"2017-01-27T00:00","v":96000000},{"t":"2017-01-28T00:00","v":100000000},
      {"t":"2017-01-29T00:00","v":103000000},{"t":"2017-01-30T00:00","v":106000000},{"t":"2017-01-31T00:00","v":110000000},{"t":"2017-02-01T00:00","v":114000000},
      {"t":"2017-02-02T00:00","v":117500000},{"t":"2017-02-03T00:00","v":121000000},{"t":"2017-02-04T00:00","v":124000000},{"t":"2017-02-05T00:00","v":126000000},
      {"t":"2017-02-06T00:00","v":128500000},{"t":"2017-02-07T00:00","v":134000000},{"t":"2017-02-08T00:00","v":140000000},{"t":"2017-02-09T00:00","v":145500000},
      {"t":"2017-02-10T00:00","v":151000000},{"t":"2017-02-11T00:00","v":155500000},{"t":"2017-02-12T00:00","v":158000000},{"t":"2017-02-13T00:00","v":160500000},
      {"t":"2017-02-14T00:00","v":166000000},{"t":"2017-02-15T00:00","v":171500000},{"t":"2017-02-16T00:00","v":177000000},{"t":"2017-02-17T00:00","v":182000000},
      {"t":"2017-02-18T00:00","v":187000000},{"t":"2017-02-19T00:00","v":189500000},{"t":"2017-02-20T00:00","v":192500000},{"t":"2017-02-21T00:00","v":198500000},
      {"t":"2017-02-22T00:00","v":204000000},{"t":"2017-02-23T00:00","v":209500000},{"t":"2017-02-24T00:00","v":215000000},{"t":"2017-02-25T00:00","v":220000000},
      {"t":"2017-02-26T00:00","v":222500000},{"t":"2017-02-27T00:00","v":225000000},{"t":"2017-02-28T00:00","v":230500000},{"t":"2017-03-01T00:00","v":236000000},
      {"t":"2017-03-02T00:00","v":241500000},{"t":"2017-03-03T00:00","v":247000000},{"t":"2017-03-04T00:00","v":252000000},{"t":"2017-03-05T00:00","v":254500000},
      {"t":"2017-03-06T00:00","v":259000000},{"t":"2017-03-07T00:00","v":265000000},{"t":"2017-03-08T00:00","v":270500000},{"t":"2017-03-09T00:00","v":276000000},
      {"t":"2017-03-10T00:00","v":281000000},{"t":"2017-03-11T00:00","v":285500000},{"t":"2017-03-12T00:00","v":288000000},{"t":"2017-03-13T00:00","v":292000000},
      {"t":"2017-03-14T00:00","v":298000000},{"t":"2017-03-15T00:00","v":304000000},{"t":"2017-03-16T00:00","v":310000000},{"t":"2017-03-17T00:00","v":316000000},
      {"t":"2017-03-18T00:00","v":321500000},{"t":"2017-03-19T00:00","v":324500000},{"t":"2017-03-20T00:00","v":327500000},{"t":"2017-03-21T00:00","v":333000000},
      {"t":"2017-03-22T00:00","v":338500000},{"t":"2017-03-23T00:00","v":344000000},{"t":"2017-03-24T00:00","v":349000000},{"t":"2017-03-24T18:00","v":352000000},
      {"t":"2017-03-26T00:00","v":null},
      {"t":"2017-03-27T17:00","v":352000000},{"t":"2017-03-28T00:00","v":355000000},{"t":"2017-03-29T00:00","v":361000000},{"t":"2017-03-30T00:00","v":366500000},
      {"t":"2017-03-31T00:00","v":372000000},{"t":"2017-04-01T00:00","v":376000000},{"t":"2017-04-02T00:00","v":378500000},{"t":"2017-04-03T00:00","v":380500000},
      {"t":"2017-04-04T00:00","v":382500000},{"t":"2017-04-05T00:00","v":384500000},{"t":"2017-04-06T00:00","v":386500000},{"t":"2017-04-07T00:00","v":388500000},
      {"t":"2017-04-08T00:00","v":390500000},{"t":"2017-04-09T00:00","v":392000000},{"t":"2017-04-10T00:00","v":393500000},{"t":"2017-04-11T00:00","v":395000000},
      {"t":"2017-04-12T00:00","v":396500000},{"t":"2017-04-13T00:00","v":398500000},{"t":"2017-04-14T00:00","v":400500000},{"t":"2017-04-15T00:00","v":402500000},
      {"t":"2017-04-16T00:00","v":404500000},{"t":"2017-04-17T00:00","v":406500000},{"t":"2017-04-18T00:00","v":411500000},{"t":"2017-04-19T00:00","v":417000000},
      {"t":"2017-04-20T00:00","v":422500000},{"t":"2017-04-21T00:00","v":427500000},{"t":"2017-04-22T00:00","v":432000000},{"t":"2017-04-23T00:00","v":434500000},
      {"t":"2017-04-24T00:00","v":437000000},{"t":"2017-04-25T00:00","v":442500000},{"t":"2017-04-26T00:00","v":448000000},{"t":"2017-04-27T00:00","v":453500000},
      {"t":"2017-04-28T00:00","v":458500000},{"t":"2017-04-29T00:00","v":463000000},{"t":"2017-04-30T00:00","v":465500000},{"t":"2017-05-01T00:00","v":469500000},
      {"t":"2017-05-02T00:00","v":474000000},{"t":"2017-05-03T00:00","v":479500000},{"t":"2017-05-04T00:00","v":485000000},{"t":"2017-05-05T00:00","v":490500000},
      {"t":"2017-05-06T00:00","v":494500000},{"t":"2017-05-07T00:00","v":496500000},{"t":"2017-05-08T00:00","v":499000000},{"t":"2017-05-09T00:00","v":503000000},
      {"t":"2017-05-10T00:00","v":509000000},{"t":"2017-05-11T00:00","v":515000000},{"t":"2017-05-12T00:00","v":520500000},{"t":"2017-05-13T00:00","v":525000000},
      {"t":"2017-05-14T00:00","v":527500000},{"t":"2017-05-15T00:00","v":530000000},{"t":"2017-05-16T00:00","v":535500000},{"t":"2017-05-17T00:00","v":542000000},
      {"t":"2017-05-18T00:00","v":548000000},{"t":"2017-05-19T00:00","v":553500000},{"t":"2017-05-20T00:00","v":558000000},{"t":"2017-05-21T00:00","v":560500000},
      {"t":"2017-05-22T00:00","v":563000000},{"t":"2017-05-23T00:00","v":567500000},{"t":"2017-05-24T00:00","v":572000000},{"t":"2017-05-25T00:00","v":576500000},
      {"t":"2017-05-26T00:00","v":580500000},{"t":"2017-05-27T00:00","v":584000000},{"t":"2017-05-28T00:00","v":586000000},{"t":"2017-05-29T00:00","v":588000000},
      {"t":"2017-05-30T00:00","v":591500000},{"t":"2017-05-31T00:00","v":595000000},{"t":"2017-06-01T00:00","v":598500000},{"t":"2017-06-02T00:00","v":602000000},
      {"t":"2017-06-03T00:00","v":605000000},{"t":"2017-06-04T00:00","v":607000000},{"t":"2017-06-05T00:00","v":609000000},{"t":"2017-06-06T00:00","v":612500000},
      {"t":"2017-06-07T00:00","v":616000000},{"t":"2017-06-08T00:00","v":619500000},{"t":"2017-06-09T00:00","v":623000000},{"t":"2017-06-10T00:00","v":625500000},
      {"t":"2017-06-11T00:00","v":627000000},{"t":"2017-06-12T00:00","v":628500000},{"t":"2017-06-13T00:00","v":632000000},{"t":"2017-06-14T00:00","v":635500000},
      {"t":"2017-06-15T00:00","v":639000000},{"t":"2017-06-16T00:00","v":642000000},{"t":"2017-06-17T00:00","v":644500000},{"t":"2017-06-18T00:00","v":645500000},
      {"t":"2017-06-19T00:00","v":646500000},{"t":"2017-06-20T00:00","v":649500000},{"t":"2017-06-21T00:00","v":652500000},{"t":"2017-06-22T00:00","v":655500000},
      {"t":"2017-06-23T00:00","v":658500000},{"t":"2017-06-24T00:00","v":661000000},{"t":"2017-06-25T00:00","v":662000000},{"t":"2017-06-26T00:00","v":663500000},
      {"t":"2017-06-27T00:00","v":666500000},{"t":"2017-06-28T00:00","v":669500000},{"t":"2017-06-29T00:00","v":672000000},{"t":"2017-06-30T00:00","v":674500000},
      {"t":"2017-07-01T00:00","v":676000000},{"t":"2017-07-01T13:00","v":677000000}
    ],
    "addLabel": [{"t":"2017-06-26T19:40","v":452,"label":"Records added per minute"}],
    "totalLabel": [{"t":"2017-07-01T01:30","v":691200000,"label":"Records in total"}],
    "credit": [{"t":"2017-07-11T12:00","v":-1262,"label":"Mu Mu"}],
    "menu": [{"t":"2017-07-10T09:36","v":7390,"label":"☰"}]
  },
  "encoding": {
    "x": {
      "field": "t",
      "type": "temporal",
      "scale": {"domain": [{"year": 2016, "month": 12, "date": 30, "hours": 5, "minutes": 48}, {"year": 2017, "month": 7, "date": 3, "hours": 8}]},
      "axis": {
        "title": "Date and time",
        "values": [
          {"year": 2017, "month": 1, "date": 9}, {"year": 2017, "month": 1, "date": 23},
          {"year": 2017, "month": 2, "date": 6}, {"year": 2017, "month": 2, "date": 20},
          {"year": 2017, "month": 3, "date": 6}, {"year": 2017, "month": 3, "date": 20},
          {"year": 2017, "month": 4, "date": 3}, {"year": 2017, "month": 4, "date": 17},
          {"year": 2017, "month": 5, "date": 1}, {"year": 2017, "month": 5, "date": 15},
          {"year": 2017, "month": 5, "date": 29}, {"year": 2017, "month": 6, "date": 12},
          {"year": 2017, "month": 6, "date": 26}
        ],
        "format": "%-d. %b",
        "labelFontSize": 24,
        "labelColor": "#666666",
        "labelPadding": 5,
        "labelOverlap": false,
        "labelFlush": false,
        "titleFontSize": 26,
        "titleFontWeight": "normal",
        "titleColor": "#666666",
        "titlePadding": 12,
        "domainColor": "#ccd6eb",
        "domainWidth": 2,
        "tickColor": "#ccd6eb",
        "tickWidth": 2,
        "tickSize": 12,
        "grid": false
      }
    }
  },
  "layer": [
    {
      "encoding": {
        "y": {
          "field": "v",
          "type": "quantitative",
          "scale": {"domain": [0, 7000], "nice": false},
          "axis": {
            "orient": "left",
            "title": "Number of records added to DB every minute (ADD)",
            "values": [0, 1000, 2000, 3000, 4000, 5000, 6000, 7000],
            "format": "d",
            "labelFontSize": 24,
            "labelColor": "#7cb5ec",
            "labelPadding": 31,
            "titleFontSize": 26,
            "titleFontWeight": "normal",
            "titleColor": "#7cb5ec",
            "titlePadding": 16,
            "domain": false,
            "ticks": false,
            "tickSize": 0,
            "gridColor": "#e6e6e6",
            "gridWidth": 2
          }
        }
      },
      "layer": [
        {
          "data": {"name": "add"},
          "mark": {"type": "line", "strokeWidth": 4.4, "strokeJoin": "round"},
          "encoding": {
            "color": {
              "datum": "Records added per minute",
              "type": "nominal",
              "scale": {"domain": ["Records added per minute", "Records in total"], "range": ["#7cb5ec", "#434348"]},
              "legend": {
                "title": null,
                "orient": "none",
                "direction": "horizontal",
                "legendX": 1228,
                "legendY": 1040,
                "padding": 0,
                "labelFontSize": 26,
                "labelFontWeight": "bold",
                "labelColor": "#333333",
                "labelOffset": 12,
                "labelLimit": 1000,
                "columnPadding": 41,
                "symbolSize": 961,
                "encode": {
                  "symbols": {
                    "update": {
                      "shape": {"signal": "datum.value === 'Records in total' ? 'M-1,-0.14H-0.42V0.14H-1Z M0.42,-0.14H1V0.14H0.42Z M0,-0.45L0.45,0L0,0.45L-0.45,0Z' : 'M-1,-0.14H-0.38V0.14H-1Z M0.38,-0.14H1V0.14H0.38Z M-0.4,0A0.4,0.4 0 1,1 0.4,0A0.4,0.4 0 1,1 -0.4,0Z'"},
                      "fill": {"scale": "color", "field": "value"},
                      "stroke": {"value": "transparent"},
                      "strokeWidth": {"value": 0}
                    }
                  }
                }
              }
            }
          }
        },
        {
          "data": {"name": "addLabel"},
          "mark": {"type": "text", "align": "right", "baseline": "middle", "fontSize": 26, "fontWeight": "bold", "fill": "#7cb5ec"},
          "encoding": {"text": {"field": "label"}}
        },
        {
          "data": {"name": "credit"},
          "mark": {"type": "text", "align": "right", "baseline": "middle", "fontSize": 20, "fill": "#999999"},
          "encoding": {"text": {"field": "label"}}
        },
        {
          "data": {"name": "menu"},
          "mark": {"type": "text", "align": "center", "baseline": "middle", "fontSize": 40, "font": "DejaVu Sans", "fill": "#666666"},
          "encoding": {"text": {"field": "label"}}
        }
      ]
    },
    {
      "encoding": {
        "y": {
          "field": "v",
          "type": "quantitative",
          "scale": {"domain": [0, 840000000], "nice": false},
          "axis": {
            "orient": "right",
            "title": "Number of records in DB (SUM)",
            "values": [0, 120000000, 240000000, 360000000, 480000000, 600000000, 720000000, 840000000],
            "labelExpr": "datum.value === 0 ? '0' : format(datum.value / 1000000, 'd') + 'M'",
            "labelFontSize": 24,
            "labelColor": "#333333",
            "labelPadding": 33,
            "titleFontSize": 26,
            "titleFontWeight": "normal",
            "titleColor": "#333333",
            "titlePadding": 12,
            "domain": false,
            "ticks": false,
            "tickSize": 0,
            "grid": false
          }
        }
      },
      "layer": [
        {
          "data": {"name": "total"},
          "mark": {"type": "line", "strokeWidth": 4.5, "strokeJoin": "round"},
          "encoding": {"color": {"datum": "Records in total", "type": "nominal"}}
        },
        {
          "data": {"name": "totalLabel"},
          "mark": {"type": "text", "align": "right", "baseline": "middle", "fontSize": 26, "fontWeight": "bold", "fill": "#434348"},
          "encoding": {"text": {"field": "label"}}
        }
      ]
    }
  ],
  "resolve": {"scale": {"y": "independent"}}
}
